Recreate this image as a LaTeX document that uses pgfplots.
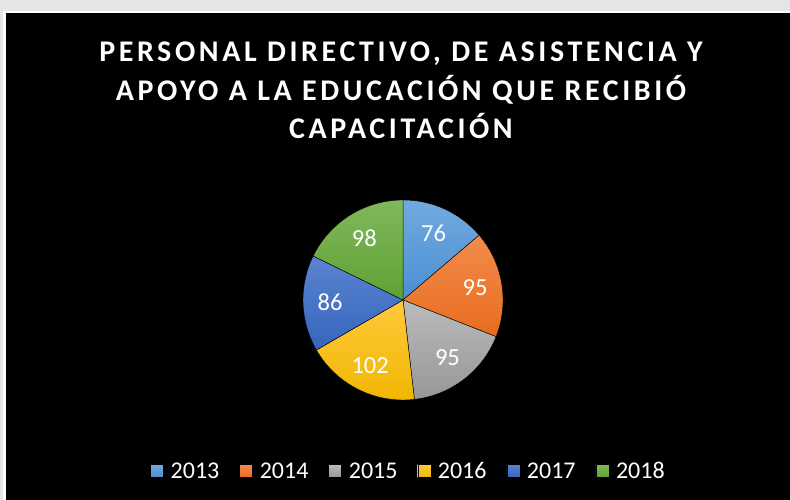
\documentclass[border=0pt]{standalone}
\usepackage{pgfplots}
\pgfplotsset{compat=1.18}
\usepackage{pgfplotstable}
\usepackage{fontspec}
\setmainfont{Carlito}
\newfontfamily\titlefont{Carlito}[LetterSpace=12.0]
\newcommand\labelfont{\fontsize{24.5bp}{29bp}\selectfont}
\newcommand\legendfont{\fontsize{24bp}{29bp}\selectfont}

% Excel-like gradients: top (light) / bottom (dark)
\definecolor{top0}{HTML}{72AADF}\definecolor{bot0}{HTML}{4A8FD3}
\definecolor{top1}{HTML}{F38C4C}\definecolor{bot1}{HTML}{E86C1E}
\definecolor{top2}{HTML}{BBBBBB}\definecolor{bot2}{HTML}{979797}
\definecolor{top3}{HTML}{FFC93C}\definecolor{bot3}{HTML}{F0B600}
\definecolor{top4}{HTML}{5B84D0}\definecolor{bot4}{HTML}{3565BD}
\definecolor{top5}{HTML}{80B85C}\definecolor{bot5}{HTML}{5FA132}

\tikzset{lbl/.style={text=white, font=\labelfont, inner sep=0pt}}

\pgfplotstableread{
year value
2013 76
2014 95
2015 95
2016 102
2017 86
2018 98
}\piedata

\begin{document}
\begin{tikzpicture}[x=1bp,y=1bp]
% frame
\fill[gray!20] (0,0) rectangle (790,500);
\fill[white] (2.5,0) rectangle (790,488.5);
\fill[black] (6,0) rectangle (790,487);

% title
\node[anchor=base, text=white, font={\titlefont\bfseries\fontsize{30bp}{36bp}\selectfont}] at (401,438) {PERSONAL DIRECTIVO, DE ASISTENCIA Y};
\node[anchor=base, text=white, font={\titlefont\bfseries\fontsize{30bp}{36bp}\selectfont}] at (401,399) {APOYO A LA EDUCACIÓN QUE RECIBIÓ};
\node[anchor=base, text=white, font={\titlefont\bfseries\fontsize{30bp}{36bp}\selectfont}] at (401,361) {CAPACITACIÓN};

\begin{axis}[
    at={(403,200)}, anchor=origin,
    x=100bp, y=100bp,
    xmin=-1, xmax=1, ymin=-1, ymax=1,
    hide axis, clip=false,
    legend image code/.code={\fill[#1] (0bp,-6.5bp) rectangle (13bp,6.5bp);},
    legend columns=6,
    legend style={
        at={(axis description cs:0.5225,-0.355)}, anchor=center,
        draw=none, fill=none, text=white,
        font=\legendfont,
        nodes={inner sep=0pt},
        /tikz/every odd column/.append style={column sep=7bp},
        /tikz/every even column/.append style={column sep=20bp},
    },
]
\def\total{0}
\pgfplotsforeachungrouped \i in {0,...,5} {
    \pgfplotstablegetelem{\i}{value}\of\piedata
    \pgfmathsetmacro\total{\total+\pgfplotsretval}
}
\def\cum{0}
\pgfplotsforeachungrouped \i in {0,...,5} {
    \pgfplotstablegetelem{\i}{value}\of\piedata
    \let\v\pgfplotsretval
    \pgfmathsetmacro\a{90-\cum/\total*360}
    \pgfmathsetmacro\b{90-(\cum+\v)/\total*360}
    \pgfmathsetmacro\m{(\a+\b)/2}
    \edef\cmd{%
        \noexpand\fill[top color=top\i, bottom color=bot\i, draw=black, line width=0.4bp]
            (axis cs:0,0) -- (axis cs:{cos(\a)},{sin(\a)})
            arc[start angle=\a, end angle=\b, radius=100bp] -- cycle;
        \noexpand\node[lbl] at (axis cs:{0.73*cos(\m)},{0.73*sin(\m)}) {\v};
    }%
    \cmd
    \pgfmathsetmacro\cum{\cum+\v}
}
\addlegendimage{top color=top0, bottom color=bot0}\addlegendentry{2013}
\addlegendimage{top color=top1, bottom color=bot1}\addlegendentry{2014}
\addlegendimage{top color=top2, bottom color=bot2}\addlegendentry{2015}
\addlegendimage{top color=top3, bottom color=bot3}\addlegendentry{2016}
\addlegendimage{top color=top4, bottom color=bot4}\addlegendentry{2017}
\addlegendimage{top color=top5, bottom color=bot5}\addlegendentry{2018}
\end{axis}
\end{tikzpicture}
\end{document}
